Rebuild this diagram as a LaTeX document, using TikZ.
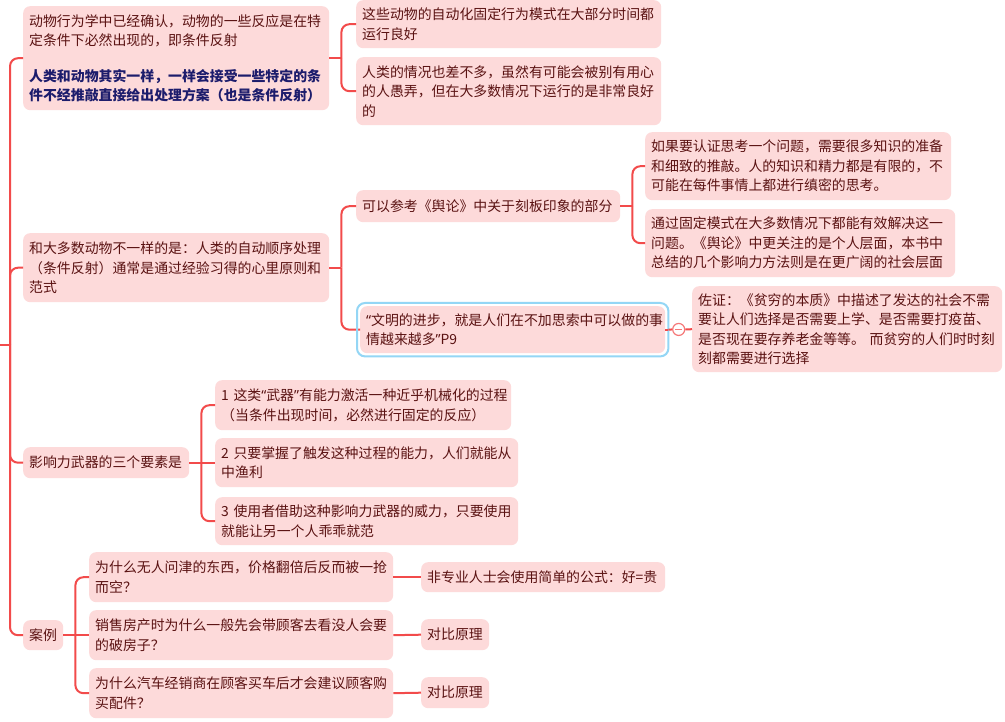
\documentclass[tikz,border=0pt]{standalone}
\usepackage{fontspec}
\setmainfont{Noto Sans CJK SC}
\newfontfamily\latinfont{Noto Sans}
\usepackage{xcolor}
\usepackage{tikz}
\usetikzlibrary{calc}
\definecolor{pinkbg}{HTML}{FDDADA}
\definecolor{inkred}{HTML}{5A1212}
\definecolor{inkblue}{HTML}{1C1C6C}
\definecolor{linered}{HTML}{F24B4B}
\definecolor{selblue}{HTML}{94D6F5}
\tikzset{
  topic/.style={fill=pinkbg,rounded corners=7pt,text=inkred,align=left,anchor=north west,
    inner xsep=6pt,inner ysep=2pt,font=\fontsize{13.9pt}{19.5pt}\selectfont},
  link/.style={draw=linered,line width=2pt,rounded corners=8pt},
  fold/.style={circle,draw=linered!75,fill=white,line width=1.2pt,minimum size=12pt,inner sep=0pt,
    path picture={\draw[linered!75,line width=1.2pt] ([xshift=-3.5pt]path picture bounding box.center)--([xshift=3.5pt]path picture bounding box.center);}}
}
\newcommand{\qL}{{\latinfont\textquotedblleft}}
\newcommand{\qR}{{\latinfont\textquotedblright}}

\begin{document}
\begin{tikzpicture}[x=1pt,y=-1pt]
\useasboundingbox[fill=white] (0,0) rectangle (1005,722);
% first level
\node[topic,text width=294pt,minimum height=104pt] (A) at (23,6) {动物行为学中已经确认，动物的一些反应是在特\\定条件下必然出现的，即条件反射\\[16pt]\bfseries\color{inkblue}人类和动物其实一样，一样会接受一些特定的条\\件不经推敲直接给出处理方案（也是条件反射）};
\node[topic,text width=294pt,minimum height=69pt] (B) at (23,233) {和大多数动物不一样的是：人类的自动顺序处理\\（条件反射）通常是通过经验习得的心里原则和\\范式};
\node[topic,text width=154pt,minimum height=31pt] (C) at (23,447) {影响力武器的三个要素是};
\node[topic,text width=28pt,minimum height=30pt] (D) at (23,620) {案例};
% second level
\node[topic,text width=293pt,minimum height=48pt] (A1) at (356,0) {这些动物的自动化固定行为模式在大部分时间都\\运行良好};
\node[topic,text width=293pt,minimum height=68pt] (A2) at (356,57) {人类的情况也差不多，虽然有可能会被别有用心\\的人愚弄，但在大多数情况下运行的是非常良好\\的};
\node[topic,text width=252pt,minimum height=32pt] (B1) at (356,190) {可以参考《舆论》中关于刻板印象的部分};
\node[topic,text width=293pt,minimum height=47pt] (B2) at (360,306) {\qL 文明的进步，就是人们在不加思索中可以做的事\\情越来越多\qR P9};
\node[topic,text width=284pt,minimum height=50pt] (C1) at (215,380) {1 这类\qL 武器\qR 有能力激活一种近乎机械化的过程\\（当条件出现时间，必然进行固定的反应）};
\node[topic,text width=291pt,minimum height=49pt] (C2) at (215,438) {2 只要掌握了触发这种过程的能力，人们就能从\\中渔利};
\node[topic,text width=291pt,minimum height=48pt] (C3) at (215,497) {3 使用者借助这种影响力武器的威力，只要使用\\就能让另一个人乖乖就范};
\node[topic,text width=292pt,minimum height=50pt] (D1) at (89,552) {为什么无人问津的东西，价格翻倍后反而被一抢\\而空？};
\node[topic,text width=292pt,minimum height=50pt] (D2) at (89,610) {销售房产时为什么一般先会带顾客去看没人会要\\的破房子？};
\node[topic,text width=292pt,minimum height=50pt] (D3) at (89,668) {为什么汽车经销商在顾客买车后才会建议顾客购\\买配件？};
% third level
\node[topic,text width=294pt,minimum height=68pt] (B1a) at (645,132) {如果要认证思考一个问题，需要很多知识的准备\\和细致的推敲。人的知识和精力都是有限的，不\\可能在每件事情上都进行缜密的思考。};
\node[topic,text width=298pt,minimum height=68pt] (B1b) at (645,209) {通过固定模式在大多数情况下都能有效解决这一\\问题。《舆论》中更关注的是个人层面，本书中\\总结的几个影响力方法则是在更广阔的社会层面};
\node[topic,text width=298pt,minimum height=86pt] (B2a) at (692,286) {佐证：《贫穷的本质》中描述了发达的社会不需\\要让人们选择是否需要上学、是否需要打疫苗、\\是否现在要存养老金等等。 而贫穷的人们时时刻\\刻都需要进行选择};
\node[topic,text width=232pt,minimum height=30pt] (D1a) at (421,562) {非专业人士会使用简单的公式：好=贵};
\node[topic,text width=56pt,minimum height=31pt] (D2a) at (421,619) {对比原理};
\node[topic,text width=56pt,minimum height=31pt] (D3a) at (421,677) {对比原理};
% trunk
\coordinate (rt) at (0,345);
\coordinate (tk) at (10,345);
\draw[link] (rt) -- (tk);
\foreach \n in {A,B,C,D}{\draw[link] (tk) |- (\n.west);}
% brackets
\foreach \p in {A,B,B1,C,D}{\coordinate (j\p) at ([xshift=12pt]\p.east); \draw[link] (\p.east) -- (j\p);}
\foreach \c in {A1,A2}{\draw[link] (jA) |- (\c.west);}
\foreach \c in {B1,B2}{\draw[link] (jB) |- (\c.west);}
\foreach \c in {B1a,B1b}{\draw[link] (jB1) |- (\c.west);}
\foreach \c in {C1,C3}{\draw[link] (jC) |- (\c.west);}
\draw[link] (jC) -- (C2.west);
\foreach \c in {D1,D3}{\draw[link] (jD) |- (\c.west);}
\draw[link] (jD) -- (D2.west);
\draw[link] (D1.east) -- (D1a.west);
\draw[link] (D2.east) -- (D2a.west);
\draw[link] (D3.east) -- (D3a.west);
% selected topic and its fold button
\draw[selblue,line width=2pt,rounded corners=8pt] ([xshift=-3pt,yshift=3pt]B2.north west) rectangle ([xshift=3pt,yshift=-3pt]B2.south east);
\node[fold] (fB2) at ($(B2.east)!0.5!(B2a.west)$) {};
\draw[link] (B2.east) -- ([xshift=3pt]B2.east);
\draw[link] ([xshift=3pt]B2.east) -- (fB2.west);
\draw[link] (fB2.east) -- (B2a.west);
\end{tikzpicture}
\end{document}
